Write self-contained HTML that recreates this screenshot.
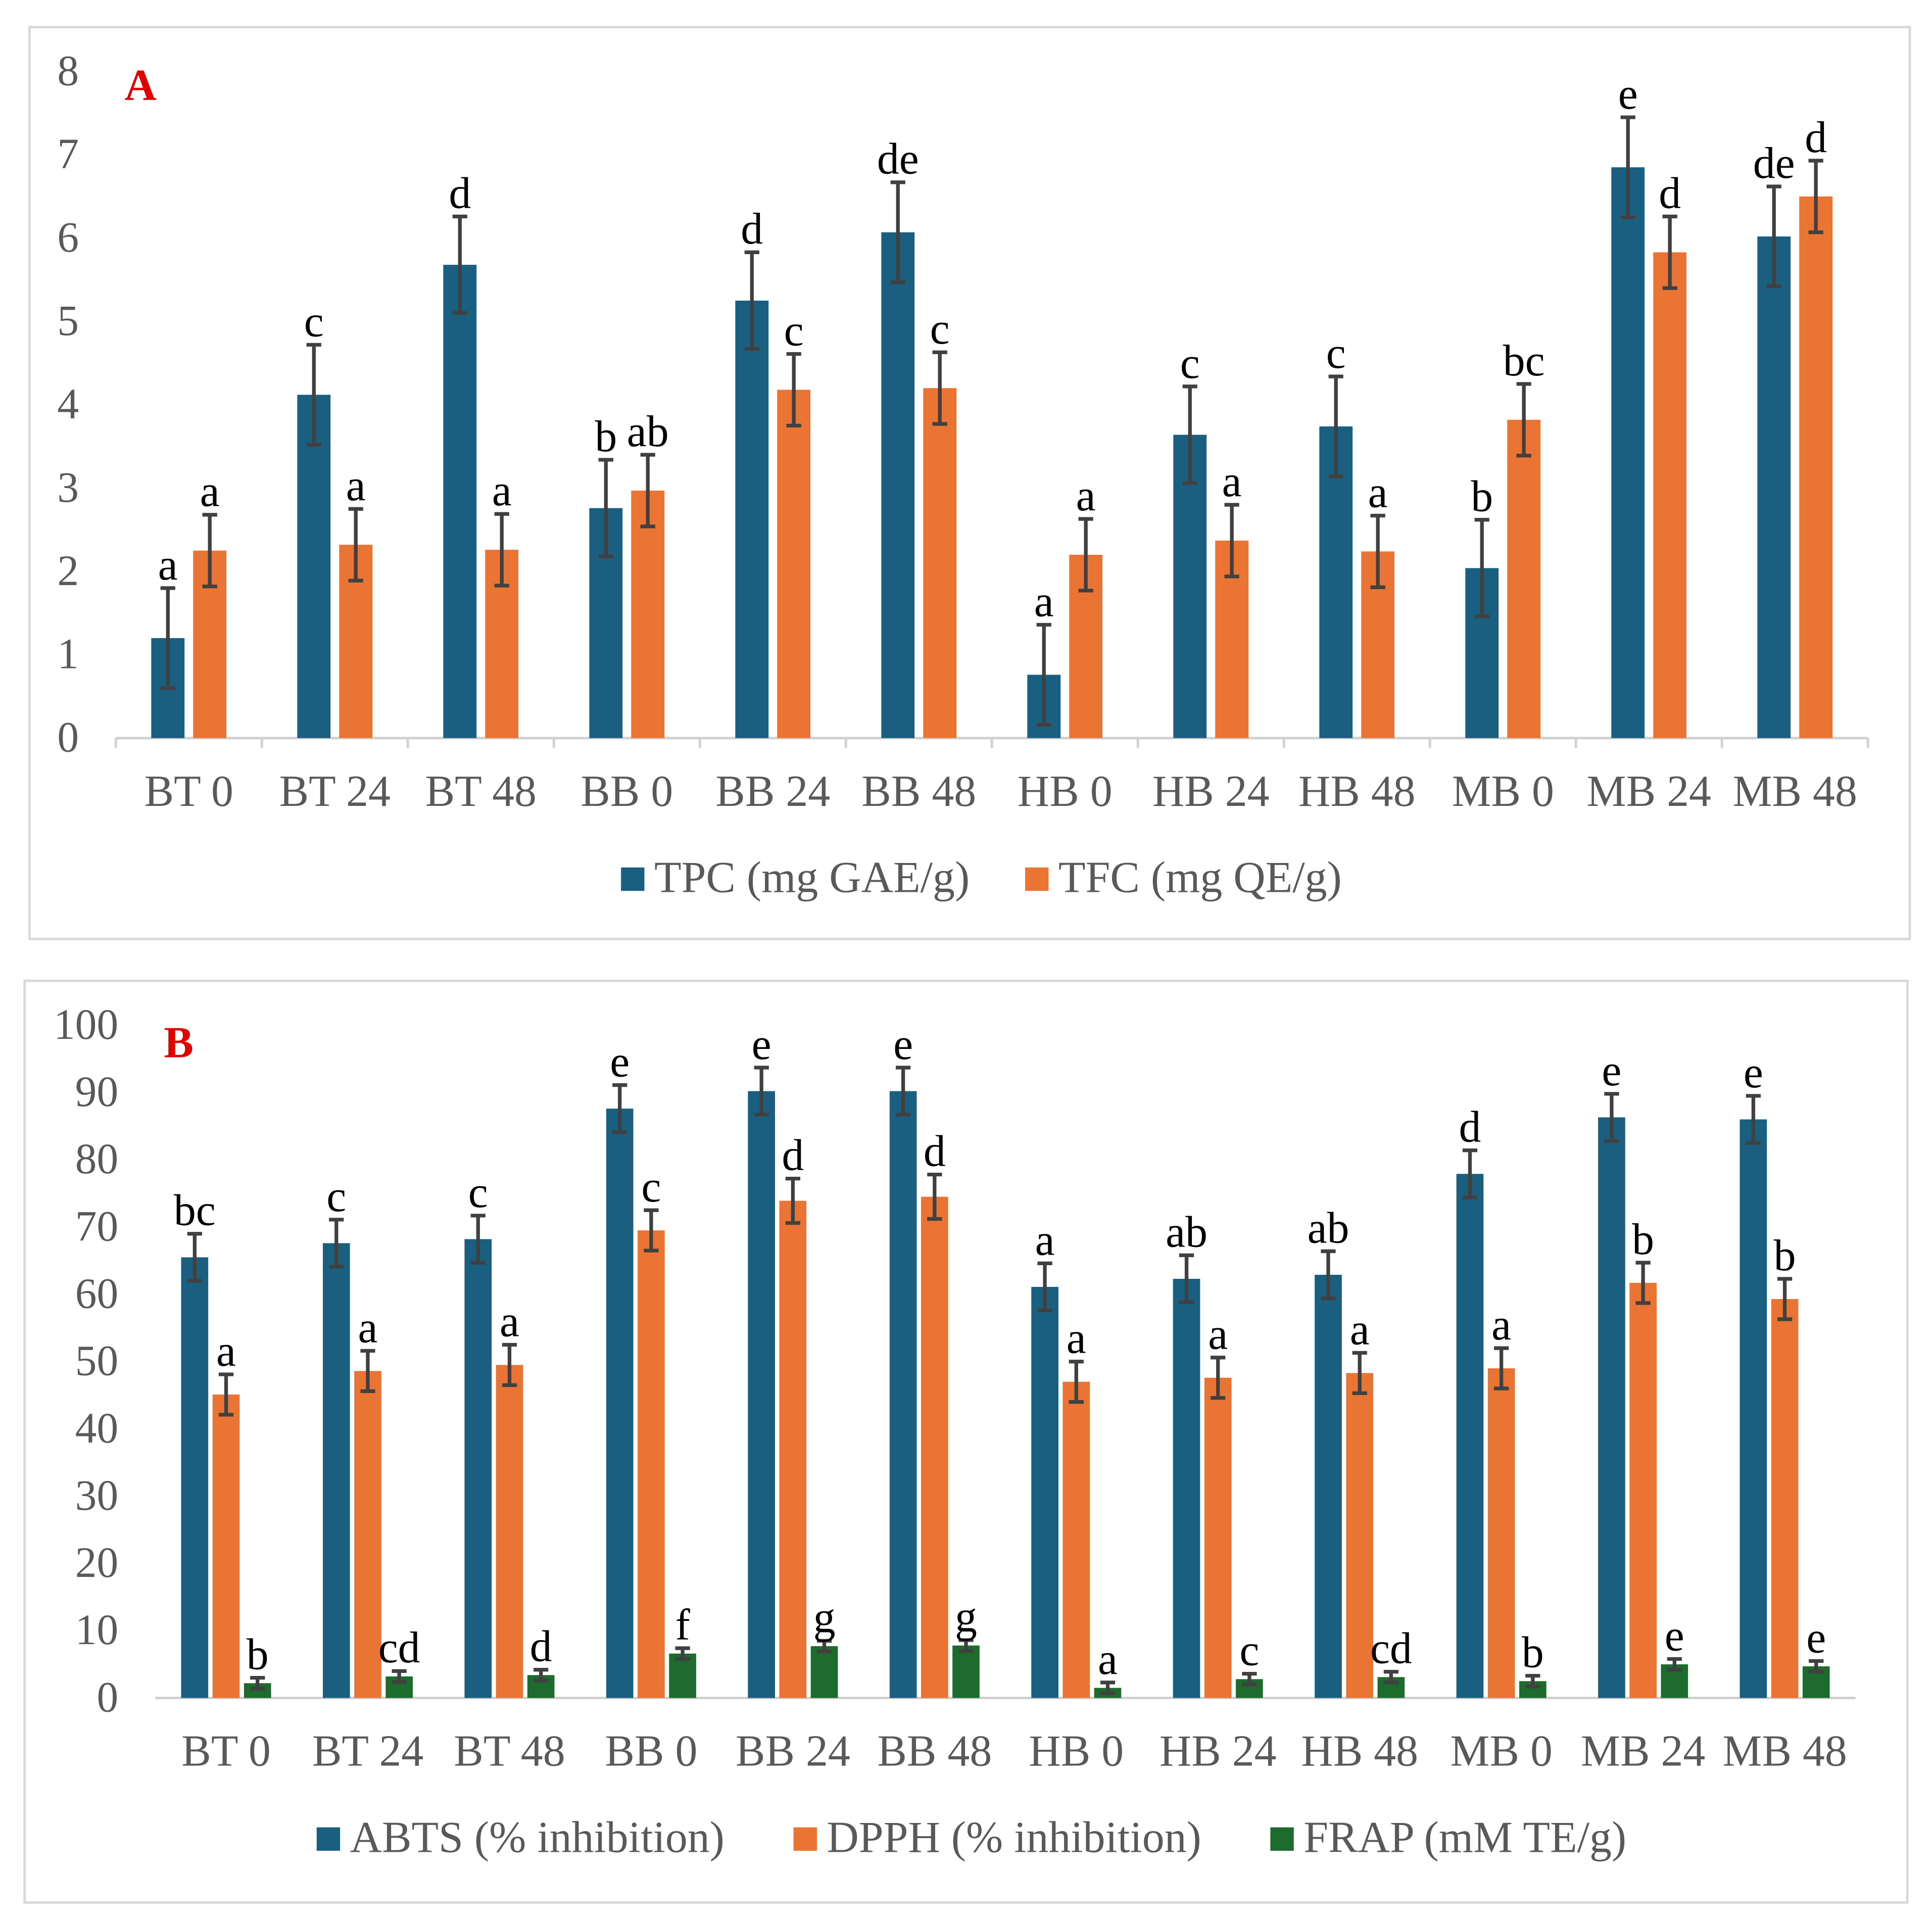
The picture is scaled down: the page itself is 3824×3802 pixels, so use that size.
<!DOCTYPE html>
<html><head><meta charset="utf-8"><style>
html,body{margin:0;padding:0;background:#fff}
svg{display:block}
text{font-family:"Liberation Serif",serif}
</style></head><body>
<svg id="s" width="3824" height="3802" viewBox="0 0 1568 1559" preserveAspectRatio="none">
<rect x="0" y="0" width="1568" height="1559" fill="#fff"/>
<rect x="24" y="22" width="1526" height="740" fill="#fff" stroke="#d9d9d9" stroke-width="2"/>
<rect x="20" y="796" width="1528" height="748" fill="#fff" stroke="#d9d9d9" stroke-width="2"/>
<text x="101" y="81" font-size="36" font-weight="bold" fill="#e00000">A</text>
<text x="133" y="858" font-size="36" font-weight="bold" fill="#e00000">B</text>
<g id="ga"></g><g id="gb"></g>
</svg>
<script>
const cats = ["BT 0","BT 24","BT 48","BB 0","BB 24","BB 48","HB 0","HB 24","HB 48","MB 0","MB 24","MB 48"];
const tpc = [1.2,4.12,5.68,2.76,5.25,6.07,0.76,3.64,3.74,2.04,6.85,6.02];
const tpcErr = [0.6,0.6,0.58,0.58,0.58,0.6,0.6,0.58,0.6,0.58,0.6,0.6];
const tpcLet = ["a","c","d","b","d","de","a","c","c","b","e","de"];
const tfc = [2.25,2.32,2.26,2.97,4.18,4.2,2.2,2.37,2.24,3.82,5.83,6.5];
const tfcErr = [0.43,0.43,0.43,0.43,0.43,0.43,0.43,0.43,0.43,0.43,0.43,0.43];
const tfcLet = ["a","a","a","ab","c","c","a","a","a","bc","d","d"];
const ticksA = [0,1,2,3,4,5,6,7,8];
const abts = [65.5,67.6,68.2,87.6,90.2,90.2,61.1,62.3,62.9,77.9,86.3,86.0];
const abtsErr = [3.5,3.5,3.5,3.5,3.5,3.5,3.5,3.5,3.5,3.5,3.5,3.5];
const abtsLet = ["bc","c","c","e","e","e","a","ab","ab","d","e","e"];
const dpph = [45.1,48.6,49.5,69.5,73.9,74.5,47.0,47.6,48.3,49.0,61.7,59.3];
const dpphErr = [3,3,3,3,3.3,3.3,3,3,3,3,3,3];
const dpphLet = ["a","a","a","c","d","d","a","a","a","a","b","b"];
const frap = [2.2,3.2,3.4,6.6,7.7,7.8,1.5,2.8,3.1,2.5,5.0,4.7];
const frapErr = [0.8,0.8,0.8,0.8,0.8,0.8,0.8,0.8,0.8,0.8,0.8,0.8];
const frapLet = ["b","cd","d","f","g","g","a","c","cd","b","e","e"];
const ticksB = [0,10,20,30,40,50,60,70,80,90,100];

const NS="http://www.w3.org/2000/svg";
function mk(p,tag,a,txt){const e=document.createElementNS(NS,tag);for(const k in a)e.setAttribute(k,a[k]);if(txt!==undefined)e.textContent=txt;p.appendChild(e);return e;}

function chart(g,cfg){
  const y=v=>cfg.y0-(v-cfg.vmin)/(cfg.vmax-cfg.vmin)*(cfg.y0-cfg.y1);
  const gw=(cfg.x1-cfg.x0)/cats.length;
  cfg.ticks.forEach(t=>{
    const e=mk(g,"text",{x:cfg.tx,y:y(t)+11,"font-size":35,fill:"#595959","text-anchor":"end"},String(t));
    
    
  });
  const ax=mk(g,"line",{x1:cfg.x0,x2:cfg.x1,y1:cfg.y0,y2:cfg.y0,stroke:"#d0d0d0","stroke-width":2});
  
  
  if(cfg.tickMarks){for(let i=0;i<=cats.length;i++){mk(g,"line",{x1:cfg.x0+i*gw,x2:cfg.x0+i*gw,y1:cfg.y0,y2:cfg.y0+8,stroke:"#d0d0d0","stroke-width":2});}}
  cats.forEach((c,i)=>{
    const cx=cfg.x0+(i+0.5)*gw;
    const lab=mk(g,"text",{x:cx,y:cfg.catY,"font-size":36,fill:"#595959","text-anchor":"middle"},c);
    
    
    const n=cfg.series.length;
    cfg.series.forEach((s,k)=>{
      const bx=cx+(k-(n-1)/2)*cfg.step-cfg.bw/2;
      const v=s.vals[i],top=y(v);
      const r=mk(g,"rect",{x:bx,y:top,width:cfg.bw,height:cfg.y0-top,fill:s.color});
      
      
      const mx=bx+cfg.bw/2,e=s.err[i],yt=y(v+e),yb=y(Math.max(0,v-e));
      const eg=mk(g,"g",{stroke:"#404040","stroke-width":3});
      
      
      mk(eg,"line",{x1:mx,x2:mx,y1:yt,y2:yb});
      mk(eg,"line",{x1:mx-6,x2:mx+6,y1:yt,y2:yt});
      mk(eg,"line",{x1:mx-6,x2:mx+6,y1:yb,y2:yb});
      const lt=mk(g,"text",{x:mx,y:yt-7,"font-size":36,fill:"#000","text-anchor":"middle"},s.let[i]);
      
      
    });
  });
  cfg.legend.forEach(l=>{
    const sw=mk(g,"rect",{x:l.x,y:cfg.legY-20,width:19,height:19,fill:l.color});
    
    
    const t=mk(g,"text",{x:l.x+27,y:cfg.legY,"font-size":36,fill:"#595959"},l.label);
    
    
  });
}
const BLUE="#1a5f80",OR="#ea7433",GR="#1e6b2e";
chart(document.getElementById("ga"),{y0:599,y1:58,vmin:0,vmax:8,x0:94,x1:1516,tx:64,ticks:ticksA,catY:654,bw:27,step:34,tickMarks:true,legY:724,
  series:[{key:"tpc",vals:tpc,err:tpcErr,let:tpcLet,color:BLUE},{key:"tfc",vals:tfc,err:tfcErr,let:tfcLet,color:OR}],
  legend:[{x:504,color:BLUE,label:"TPC (mg GAE/g)"},{x:832,color:OR,label:"TFC (mg QE/g)"}]});
chart(document.getElementById("gb"),{y0:1378,y1:832,vmin:0,vmax:100,x0:126,x1:1506,tx:96,ticks:ticksB,catY:1433,bw:22,step:25.5,tickMarks:false,legY:1503,
  series:[{key:"abts",vals:abts,err:abtsErr,let:abtsLet,color:BLUE},{key:"dpph",vals:dpph,err:dpphErr,let:dpphLet,color:OR},{key:"frap",vals:frap,err:frapErr,let:frapLet,color:GR}],
  legend:[{x:257,color:BLUE,label:"ABTS (% inhibition)"},{x:644,color:OR,label:"DPPH (% inhibition)"},{x:1031,color:GR,label:"FRAP (mM TE/g)"}]});
</script>
</body></html>
